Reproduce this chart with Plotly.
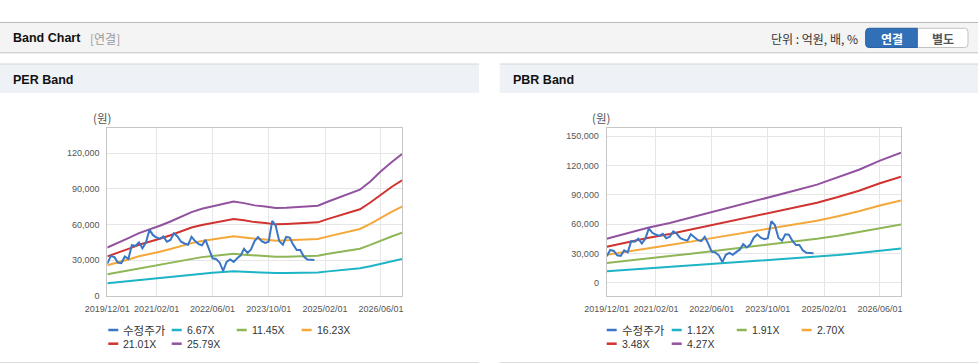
import plotly.graph_objects as go
import pandas as pd

W, H = 978, 364

# ---------------- data ----------------
price_dates = pd.date_range("2019-12-01", "2024-11-01", freq="MS")
per_dates = pd.date_range("2019-12-01", "2026-12-01", freq="3MS")
pbr_dates = pd.date_range("2019-12-01", "2026-12-01", freq="6MS")

price = [27000, 33500, 32500, 28000, 27500, 33000, 31000, 42500, 42000, 45000,
         40000, 45000, 55500, 51000, 49000, 48000, 50000, 45500, 47000, 52500,
         50000, 45500, 44000, 43000, 49500, 46000, 43500, 42500, 47000, 40000,
         31500, 31000, 28000, 21000, 28500, 30500, 28500, 31500, 34000, 39500,
         36000, 39000, 46000, 49500, 46000, 44500, 45500, 63000, 59000, 46000,
         43000, 49500, 49000, 43000, 38500, 38500, 33000, 30500, 30000, 30000]

per_names = ["6.67X", "11.45X", "16.23X", "21.01X", "25.79X"]
per_667 = [10500, 11400, 12500, 13600, 14400, 15200, 16200, 17300, 18200, 18900,
           19400, 20000, 20500, 20200, 19700, 19400, 19100, 19200, 19300, 19400,
           19600, 20500, 21400, 22200, 23100, 24900, 27100, 29100, 30900]
per_1145 = [18000, 19600, 21500, 23400, 24600, 26200, 27800, 29700, 31300, 32500,
            33400, 34400, 35300, 34600, 33800, 33400, 32800, 32900, 33100, 33400,
            33700, 35300, 36800, 38100, 39600, 42800, 46500, 49900, 53000]
per_1623 = [25600, 27800, 30500, 33200, 34900, 37100, 39300, 42000, 44300, 46100,
            47300, 48800, 50000, 49100, 47900, 47300, 46400, 46600, 46900, 47300,
            47700, 50000, 52100, 54100, 56200, 60600, 66000, 70700, 75100]
per_2101 = [33100, 36000, 39500, 42900, 45200, 48000, 50900, 54400, 57400, 59600,
            61300, 63100, 64700, 63500, 62000, 61300, 60100, 60400, 60800, 61300,
            61800, 64700, 67500, 70000, 72800, 78500, 85400, 91600, 97300]
per_2579 = [40600, 44200, 48500, 52700, 55500, 58900, 62500, 66800, 70400, 73200,
            75200, 77500, 79400, 78000, 76100, 75200, 73800, 74100, 74600, 75200,
            75800, 79400, 82800, 85900, 89300, 96300, 104800, 112400, 119400]

pbr_names = ["1.12X", "1.91X", "2.70X", "3.48X", "4.27X"]
pbr_112 = [11800, 13300, 14800, 16000, 17400, 18900, 20300, 21800, 23300, 24800,
           26300, 28200, 30300, 32700, 34900]
pbr_191 = [20100, 22700, 25300, 27300, 29700, 32200, 34700, 37100, 39800, 42300,
           44900, 48100, 51700, 55800, 59500]
pbr_270 = [28500, 32100, 35700, 38600, 42000, 45500, 49000, 52500, 56300, 59800,
           63400, 68000, 73000, 78900, 84100]
pbr_348 = [36700, 41400, 46000, 49700, 54200, 58600, 63200, 67600, 72500, 77000,
           81700, 87600, 94100, 101700, 108400]
pbr_427 = [45000, 50800, 56500, 61000, 66500, 71900, 77500, 83000, 89000, 94500,
           100300, 107500, 115500, 124800, 133000]

price_name = "수정주가"
tick_dates = ["2019-12-01", "2021-02-01", "2022-06-01", "2023-10-01", "2025-02-01", "2026-06-01"]
tick_text = ["2019/12/01", "2021/02/01", "2022/06/01", "2023/10/01", "2025/02/01", "2026/06/01"]
per_yticks = [0, 30000, 60000, 90000, 120000]
pbr_yticks = [0, 30000, 60000, 90000, 120000, 150000]

# ---------------- style ----------------
PRICE_COLOR = "#3a76c4"
BAND_COLORS = ["#1db4c6", "#8fb656", "#f4a83a", "#d03330", "#92529f"]
FONT = "Liberation Sans, Arial, Noto Sans CJK KR, sans-serif"
KFONT = "Noto Sans CJK KR, Liberation Sans, sans-serif"


def fx(x):
    return x / W


def fy(y):
    return 1 - y / H


fig = go.Figure()

per_bands = [per_667, per_1145, per_1623, per_2101, per_2579]
pbr_bands = [pbr_112, pbr_191, pbr_270, pbr_348, pbr_427]

for name, vals, col in zip(per_names, per_bands, BAND_COLORS):
    fig.add_trace(go.Scatter(x=per_dates, y=vals, name=name, mode="lines",
                             line=dict(color=col, width=2), showlegend=False,
                             xaxis="x", yaxis="y"))
fig.add_trace(go.Scatter(x=price_dates, y=price, name=price_name, mode="lines",
                         line=dict(color=PRICE_COLOR, width=2), showlegend=False,
                         xaxis="x", yaxis="y"))

for name, vals, col in zip(pbr_names, pbr_bands, BAND_COLORS):
    fig.add_trace(go.Scatter(x=pbr_dates, y=vals, name=name, mode="lines",
                             line=dict(color=col, width=2), showlegend=False,
                             xaxis="x2", yaxis="y2"))
fig.add_trace(go.Scatter(x=price_dates, y=price, name=price_name, mode="lines",
                         line=dict(color=PRICE_COLOR, width=2), showlegend=False,
                         xaxis="x2", yaxis="y2"))

plot_top, plot_bot = 128, 295.7
ydom = [fy(plot_bot), fy(plot_top)]

xcommon = dict(type="date", range=["2019-12-01", "2026-12-01"], tickvals=tick_dates,
               ticktext=tick_text, tickangle=0, showgrid=True, gridcolor="#e6e6e6",
               gridwidth=1, showline=True, mirror=True, linecolor="#c6c6c6",
               linewidth=1, zeroline=False, ticks="", ticklabelstandoff=4,
               automargin=False,
               tickfont=dict(family=FONT, size=9, color="#555555"), fixedrange=True)
ycommon = dict(showgrid=True, gridcolor="#e6e6e6", gridwidth=1, showline=True,
               mirror=True, linecolor="#c6c6c6", linewidth=1, zeroline=False,
               ticks="", ticklabelstandoff=5, tickformat=",d", automargin=False,
               tickfont=dict(family=FONT, size=9, color="#555555"), fixedrange=True)

fig.update_layout(
    width=W, height=H,
    margin=dict(l=0, r=0, t=0, b=0, pad=0, autoexpand=False),
    paper_bgcolor="white", plot_bgcolor="white",
    showlegend=False,
    font=dict(family=FONT, color="#333333"),
    xaxis=dict(domain=[fx(107.3), fx(402)], anchor="y", **xcommon),
    yaxis=dict(domain=ydom, anchor="x", range=[0, 141300], tickvals=per_yticks, **ycommon),
    xaxis2=dict(domain=[fx(606.7), fx(901)], anchor="y2", **xcommon),
    yaxis2=dict(domain=ydom, anchor="x2", range=[-13300, 158200], tickvals=pbr_yticks, **ycommon),
    hovermode=False,
)

shapes = []
annotations = []


def rect(x0, y0, x1, y1, fill, line=None, lw=0):
    shapes.append(dict(type="rect", xref="paper", yref="paper", x0=fx(x0), x1=fx(x1),
                       y0=fy(y1), y1=fy(y0), fillcolor=fill, layer="below",
                       line=dict(color=line or fill, width=lw)))


def hline(x0, x1, y, color, w=1):
    shapes.append(dict(type="line", xref="paper", yref="paper", x0=fx(x0), x1=fx(x1),
                       y0=fy(y), y1=fy(y), line=dict(color=color, width=w), layer="below"))


def text(x, y, s, size=12, color="#333", bold=False, xanchor="left", family=KFONT):
    if bold:
        s = "<b>" + s + "</b>"
    annotations.append(dict(x=fx(x), y=fy(y), xref="paper", yref="paper", text=s,
                            showarrow=False, xanchor=xanchor, yanchor="middle",
                            font=dict(size=size, color=color, family=family)))


# top bar
rect(0, 22.5, 978, 52.5, "#f4f4f4")
hline(0, 978, 22.5, "#b8b8b8", 1.2)
hline(0, 978, 52.6, "#cfcfcf", 1)
hline(0, 978, 53.6, "#ececec", 1)
text(11, 38.5, "Band Chart", size=12.5, color="#111111", bold=True, family=FONT)
text(88, 38.5, "[연결]", size=12, color="#9a9a9a")
text(860, 38.5, "단위 : 억원, 배, %", size=12, color="#333333", xanchor="right")


def rounded_path(x0, y0, x1, y1, r, left=True, right=True):
    X = lambda v: fx(v)
    Y = lambda v: fy(v)
    p = []
    if left:
        p.append(f"M{X(x0 + r)},{Y(y0)}")
    else:
        p.append(f"M{X(x0)},{Y(y0)}")
    if right:
        p.append(f"L{X(x1 - r)},{Y(y0)} Q{X(x1)},{Y(y0)} {X(x1)},{Y(y0 + r)}")
        p.append(f"L{X(x1)},{Y(y1 - r)} Q{X(x1)},{Y(y1)} {X(x1 - r)},{Y(y1)}")
    else:
        p.append(f"L{X(x1)},{Y(y0)} L{X(x1)},{Y(y1)}")
    if left:
        p.append(f"L{X(x0 + r)},{Y(y1)} Q{X(x0)},{Y(y1)} {X(x0)},{Y(y1 - r)}")
        p.append(f"L{X(x0)},{Y(y0 + r)} Q{X(x0)},{Y(y0)} {X(x0 + r)},{Y(y0)}")
    else:
        p.append(f"L{X(x0)},{Y(y1)}")
    p.append("Z")
    return " ".join(p)


shapes.append(dict(type="path", xref="paper", yref="paper",
                   path=rounded_path(865.7, 28.3, 968, 47.5, 3.5),
                   fillcolor="white", line=dict(color="#c2c2c2", width=1), layer="below"))
shapes.append(dict(type="path", xref="paper", yref="paper",
                   path=rounded_path(865.7, 28.3, 917.3, 47.5, 3.5, left=True, right=False),
                   fillcolor="#3170b6", line=dict(color="#2a63a6", width=1), layer="below"))
text(891.5, 38.3, "연결", size=12, color="white", bold=True)
text(942.7, 38.3, "별도", size=12, color="#555555", bold=True)
annotations[-2]["xanchor"] = "center"
annotations[-1]["xanchor"] = "center"

# panels
for (x0, x1, title, tx) in [(0, 479, "PER Band", 11), (499.7, 978, "PBR Band", 510.5)]:
    rect(x0, 64, x1, 93, "#eef2f6")
    hline(x0, x1, 64, "#d4d4d4", 1)
    hline(x0, x1, 362.5, "#dcdcdc", 1)
    text(tx, 79.5, title, size=12.5, color="#111111", bold=True, family=FONT)

text(102.3, 118, "(원)", size=11.5, color="#555555", xanchor="center")
text(601, 118, "(원)", size=11.5, color="#555555", xanchor="center")


# legends (manual)
def legend(sample_xs, text_off, items):
    rows = [330, 343.7]
    for i, (name, col) in enumerate(items):
        r = rows[i // 4]
        sx = sample_xs[i % 4]
        shapes.append(dict(type="line", xref="paper", yref="paper", x0=fx(sx), x1=fx(sx + 10),
                           y0=fy(r), y1=fy(r), line=dict(color=col, width=2.5)))
        text(sx + text_off, r, name, size=10.5 if name != price_name else 11.5,
             color="#333333", family=KFONT if name == price_name else FONT)


legend([108.3, 171.7, 236.7, 301.7], 13,
       [(price_name, PRICE_COLOR)] + list(zip(per_names, BAND_COLORS)))
legend([606.7, 671.7, 736.7, 801.7], 13,
       [(price_name, PRICE_COLOR)] + list(zip(pbr_names, BAND_COLORS)))

fig.update_layout(shapes=shapes, annotations=annotations)
fig.write_html("out.html", config={"displayModeBar": False, "displaylogo": False},
               post_script="document.body.style.margin='0';document.body.style.overflow='hidden';")
